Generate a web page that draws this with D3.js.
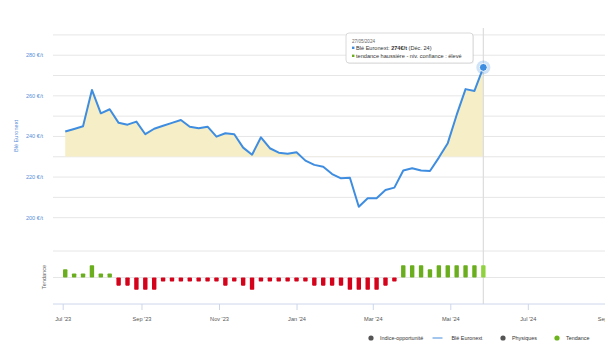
<!DOCTYPE html>
<html><head><meta charset="utf-8">
<script src="https://cdn.jsdelivr.net/npm/d3@7"></script>
<style>
html,body{margin:0;padding:0;background:#fff;}
svg{display:block;font-family:"Liberation Sans",Arial,sans-serif;}
</style></head>
<body>
<svg id="c" width="605" height="356"></svg>
<script>
const dates = ["2023-07-03","2023-07-10","2023-07-17","2023-07-24","2023-07-31","2023-08-07","2023-08-14","2023-08-21","2023-08-28",
"2023-09-04","2023-09-11","2023-09-18","2023-09-25","2023-10-02","2023-10-09","2023-10-16","2023-10-23","2023-10-30",
"2023-11-06","2023-11-13","2023-11-20","2023-11-27","2023-12-04","2023-12-11","2023-12-18","2023-12-25",
"2024-01-01","2024-01-08","2024-01-15","2024-01-22","2024-01-29","2024-02-05","2024-02-12","2024-02-19","2024-02-26",
"2024-03-04","2024-03-11","2024-03-18","2024-03-25","2024-04-01","2024-04-08","2024-04-15","2024-04-22","2024-04-29",
"2024-05-06","2024-05-13","2024-05-20","2024-05-27"];
const bleEuronext = [242.4,243.7,245.0,262.9,251.4,253.4,246.7,245.8,247.3,241.1,243.8,245.3,246.7,248.1,244.8,244.0,244.8,239.9,
241.6,241.1,234.5,231.0,239.6,234.2,232.0,231.5,232.2,228.1,226.0,225.1,221.5,219.4,219.7,205.4,209.6,209.6,213.6,214.8,
223.2,224.3,223.2,223.0,229.6,236.7,250.6,263.3,262.4,274.0];
const tendance = [2,1,1,3,1,1,-2,-2,-3,-3,-3,-1,-1,-1,-1,-1,-1,-1,-2,-1,-2,-3,-1,-1,-1,-1,-1,-1,
-2,-2,-2,-2,-3,-3,-3,-3,-2,-1,3,3,3,2,3,3,3,3,3,3];
const seuil = 230;
const yTicks = [200,220,240,260,280];
const yGrid = [200,210,220,230,240,250,260,270,280,290];
const xTickDates = ["2023-07-01","2023-09-01","2023-11-01","2024-01-01","2024-03-01","2024-05-01","2024-07-01","2024-09-01"];
const xTickLabels = ["Jul '23","Sep '23","Nov '23","Jan '24","Mar '24","Mai '24","Jul '24","Sep '24"];
const legendItems = [
  {name:"Indice-opportunité", type:"dot", color:"#555555"},
  {name:"Blé Euronext", type:"line", color:"#8db8ea"},
  {name:"Physiques", type:"dot", color:"#555555"},
  {name:"Tendance", type:"dot", color:"#6cb41c"}
];
const tooltipDate = "27/05/2024";

const parse = d3.utcParse("%Y-%m-%d");
const data = dates.map((d,i)=>({date:parse(d), v:bleEuronext[i], t:tendance[i]}));

const svg = d3.select("#c");
const x = d3.scaleUtc().domain([parse("2023-07-01"), parse("2024-05-01")]).range([62.7, 450.3]);
const y = d3.scaleLinear().domain([200,290]).range([217.7,34.9]);
const yt = d3.scaleLinear().domain([-6.5,6.5]).range([304,251]);
const gridX0 = 53, gridX1 = 605;

// gridlines main
svg.append("g").selectAll("line").data(yGrid).join("line")
  .attr("x1",gridX0).attr("x2",gridX1).attr("y1",d=>y(d)).attr("y2",d=>y(d))
  .attr("stroke","#e6e6e6").attr("stroke-width",1);
// tendency gridlines
svg.append("g").selectAll("line").data([6.5,0]).join("line")
  .attr("x1",gridX0).attr("x2",gridX1).attr("y1",d=>yt(d)).attr("y2",d=>yt(d))
  .attr("stroke","#e6e6e6").attr("stroke-width",1);

// y labels
svg.append("g").selectAll("text").data(yTicks).join("text")
  .attr("x",43).attr("y",d=>y(d)).attr("dy","0.35em").attr("text-anchor","end")
  .attr("font-size",5.6).attr("fill","#5b8fd8").text(d=>d+" €/t");
svg.append("text").attr("transform","translate(17.5,136) rotate(-90)").attr("text-anchor","middle")
  .attr("font-size",5.6).attr("fill","#5b8fd8").text("Blé Euronext");
svg.append("text").attr("transform","translate(46,277) rotate(-90)").attr("text-anchor","middle")
  .attr("font-size",5.6).attr("fill","#666").text("Tendance");

// area clipped above threshold
svg.append("defs").append("clipPath").attr("id","above")
  .append("rect").attr("x",0).attr("y",0).attr("width",605).attr("height",y(seuil));
const area = d3.area().x(d=>x(d.date)).y0(y(seuil)).y1(d=>y(d.v));
svg.append("path").datum(data).attr("d",area).attr("fill","#f6eec6").attr("clip-path","url(#above)");

// crosshair
const last = data[data.length-1];
svg.append("line").attr("x1",x(last.date)).attr("x2",x(last.date)).attr("y1",28).attr("y2",304)
  .attr("stroke","#dcdcdc").attr("stroke-width",1.2);

// line
const line = d3.line().x(d=>x(d.date)).y(d=>y(d.v));
svg.append("path").datum(data).attr("d",line).attr("fill","none")
  .attr("stroke","#3f8de0").attr("stroke-width",2).attr("stroke-linejoin","round");

// tendency bars
const bw = 4.4;
svg.append("g").selectAll("rect").data(data).join("rect")
  .attr("x",d=>x(d.date)-bw/2).attr("width",bw)
  .attr("y",d=>d.t>0?yt(d.t):yt(0)).attr("height",d=>Math.abs(yt(d.t)-yt(0)))
  .attr("rx",0.8)
  .attr("fill",(d,i)=>d.t>0?(i===data.length-1?"#8fd13f":"#6aae1e"):"#d4021b");

// x axis
const xa = d3.axisBottom(x).tickValues(xTickDates.map(parse)).tickSize(6)
  .tickFormat((d,i)=>xTickLabels[i]);
const gx = svg.append("g").attr("transform","translate(0,304)").call(xa);
gx.select(".domain").remove();
svg.append("line").attr("x1",gridX0).attr("x2",gridX1).attr("y1",304).attr("y2",304).attr("stroke","#ccd6eb");
gx.selectAll(".tick line").attr("stroke","#ccd6eb");
gx.selectAll(".tick text").attr("fill","#555").attr("font-size",5.6).attr("y",13)
  .attr("font-family","Liberation Sans, Arial, sans-serif");

// marker
svg.append("circle").attr("cx",x(last.date)).attr("cy",y(last.v)).attr("r",7).attr("fill","rgba(63,141,224,0.25)");
svg.append("circle").attr("cx",x(last.date)).attr("cy",y(last.v)).attr("r",4).attr("fill","#3f8de0").attr("stroke","#fff").attr("stroke-width",1);

// tooltip
const tt = svg.append("g").attr("transform","translate(346,33)");
tt.append("rect").attr("x",1).attr("y",1).attr("width",127).attr("height",30).attr("rx",3).attr("fill","rgba(0,0,0,0.06)");
tt.append("rect").attr("width",127).attr("height",30).attr("rx",3).attr("fill","#fff").attr("stroke","#d0d0d0").attr("stroke-width",0.8);
tt.append("text").attr("x",6).attr("y",9.5).attr("font-size",4.6).attr("fill","#666").text(tooltipDate);
tt.append("rect").attr("x",6).attr("y",13.6).attr("width",2.4).attr("height",2.4).attr("fill","#3f8de0");
const t2 = tt.append("text").attr("x",10).attr("y",16.6).attr("font-size",5.6).attr("fill","#333");
t2.append("tspan").text("Blé Euronext: ");
t2.append("tspan").attr("font-weight","bold").text(last.v.toFixed(0)+"€/t");
t2.append("tspan").text(" (Déc. 24)");
tt.append("rect").attr("x",6).attr("y",21.6).attr("width",2.4).attr("height",2.4).attr("fill","#6aae1e");
tt.append("text").attr("x",10).attr("y",24.6).attr("font-size",5.6).attr("fill","#333").text("tendance haussière - niv. confiance : élevé");

// legend
const lg = svg.append("g").attr("transform","translate(0,338)");
const lx = [371, 437.5, 503, 557];
legendItems.forEach((it,i)=>{
  const g = lg.append("g").attr("transform",`translate(${lx[i]},0)`);
  if(it.type==="dot") g.append("circle").attr("r",2.6).attr("fill",it.color);
  else g.append("line").attr("x1",-5).attr("x2",5).attr("stroke",it.color).attr("stroke-width",1.6);
  g.append("text").attr("x",it.type==="dot"?9:14).attr("dy","0.35em").attr("font-size",5.4).attr("fill","#333").text(it.name);
});
</script>
</body></html>
